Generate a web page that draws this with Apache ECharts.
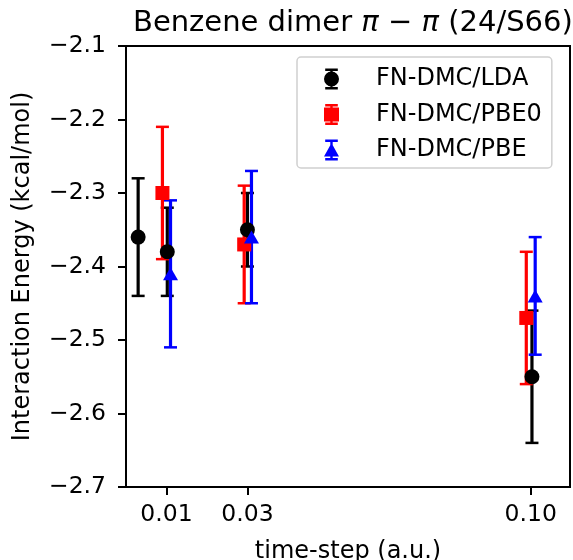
<!DOCTYPE html>
<html>
<head>
  <meta charset="utf-8">
  <style>
    body { margin: 0; padding: 0; background: #fff; }
  </style>
</head>
<body>
  <div id="main" style="width: 573px; height: 560px"></div>
</body>
<script src="https://cdn.jsdelivr.net/npm/echarts@6/dist/echarts.min.js"></script>
<script>
  // data
  var xLDA = [0.003, 0.0102, 0.030, 0.1003];
  var yLDA = [-2.36, -2.38, -2.35, -2.55];
  var eLDA = [0.08, 0.06, 0.05, 0.09];

  var xPBE0 = [0.009, 0.0292, 0.0989];
  var yPBE0 = [-2.30, -2.37, -2.47];
  var ePBE0 = [0.09, 0.08, 0.09];

  var xPBE = [0.011, 0.031, 0.1011];
  var yPBE = [-2.41, -2.36, -2.44];
  var ePBE = [0.10, 0.09, 0.08];

  var xTicks = [0.01, 0.03, 0.10];

  var font = 'DejaVu Sans';

  function points(xs, ys) {
    return xs.map(function(x, i) { return [x, ys[i]]; });
  }
  function bars(xs, ys, es) {
    return xs.map(function(x, i) { return [x, ys[i] - es[i], ys[i] + es[i]]; });
  }

  function errorSeries(name, color, data) {
    return {
      name: name,
      type: 'custom',
      data: data,
      encode: { x: 0, y: [1, 2] },
      renderItem: function(params, api) {
        var lo = api.coord([api.value(0), api.value(1)]);
        var hi = api.coord([api.value(0), api.value(2)]);
        var cap = 6.5;
        var st = { stroke: color, lineWidth: 3.2 };
        var cst = { stroke: color, lineWidth: 2.5 };
        return {
          type: 'group',
          children: [
            { type: 'line', shape: { x1: lo[0], y1: lo[1], x2: hi[0], y2: hi[1] }, style: st },
            { type: 'line', shape: { x1: lo[0] - cap, y1: lo[1], x2: lo[0] + cap, y2: lo[1] }, style: cst },
            { type: 'line', shape: { x1: hi[0] - cap, y1: hi[1], x2: hi[0] + cap, y2: hi[1] }, style: cst }
          ]
        };
      }
    };
  }

  var capPath = 'M1.2,0 H13.8 V2.4 H1.2 Z M6.3,0 H8.7 V21 H6.3 Z M1.2,18.6 H13.8 V21 H1.2 Z ';
  var iconLDA = 'path://' + capPath + 'M15,10.5 A7.5,7.5 0 1,1 0,10.5 A7.5,7.5 0 1,1 15,10.5 Z';
  var iconPBE0 = 'path://' + capPath + 'M0,3.5 H15 V17.5 H0 Z';
  var iconPBE = 'path://' + capPath + 'M7.5,3.5 L15,17 L0,17 Z';

  var chart = echarts.init(document.getElementById('main'));
  chart.setOption({
    animation: false,
    backgroundColor: '#fff',
    title: {
      left: 128,
      top: 4,
      text: '{a|Benzene dimer }{i|π}{a| − }{i|π}{a| (24/S66)}',
      textStyle: {
        fontWeight: 'normal',
        fontSize: 29,
        rich: {
          a: { fontFamily: font, fontSize: 29, fontWeight: 'normal', color: '#000' },
          i: { fontFamily: font, fontSize: 29, fontWeight: 'normal', color: '#000', fontStyle: 'italic' }
        }
      }
    },
    grid: {
      left: 126, right: 3, top: 46, bottom: 73,
      outerBoundsMode: 'none',
      containLabel: false,
      show: true, borderColor: '#000', borderWidth: 2
    },
    legend: {
      left: 297,
      top: 57,
      orient: 'vertical',
      selectedMode: false,
      itemWidth: 15,
      itemHeight: 21,
      itemGap: 11.5,
      padding: [10, 10, 6, 27],
      borderColor: '#d0d0d0',
      borderWidth: 1.5,
      borderRadius: 4,
      backgroundColor: '#fff',
      textStyle: { fontFamily: font, fontSize: 24, color: '#000', padding: [0, 0, 0, 32] },
      data: [
        { name: 'FN-DMC/LDA', icon: iconLDA, itemStyle: { color: '#000' } },
        { name: 'FN-DMC/PBE0', icon: iconPBE0, itemStyle: { color: '#ff0000' } },
        { name: 'FN-DMC/PBE', icon: iconPBE, itemStyle: { color: '#0000ff' } }
      ]
    },
    xAxis: {
      type: 'value',
      min: 0,
      max: 0.1097,
      name: 'time-step (a.u.)',
      nameLocation: 'middle',
      nameGap: 53,
      nameTextStyle: { fontFamily: font, fontSize: 24, color: '#000' },
      axisLine: { show: true, lineStyle: { color: '#000', width: 2 } },
      axisTick: { show: true, length: 8, customValues: xTicks, lineStyle: { color: '#000', width: 2 } },
      axisLabel: {
        margin: 16,
        customValues: xTicks,
        fontFamily: font, fontSize: 23.5, color: '#000',
        formatter: function(v) { return v.toFixed(2); }
      },
      splitLine: { show: false }
    },
    yAxis: {
      type: 'value',
      min: -2.7,
      max: -2.1,
      interval: 0.1,
      name: 'Interaction Energy (kcal/mol)',
      nameLocation: 'middle',
      nameGap: 91,
      nameTextStyle: { fontFamily: font, fontSize: 24, color: '#000' },
      axisLine: { show: true, lineStyle: { color: '#000', width: 2 } },
      axisTick: { show: true, length: 8, lineStyle: { color: '#000', width: 2 } },
      axisLabel: {
        margin: 20,
        fontFamily: font, fontSize: 23.5, color: '#000',
        formatter: function(v) { return v.toFixed(1).replace('-', '−'); }
      },
      splitLine: { show: false }
    },
    series: [
      errorSeries('err LDA', '#000', bars(xLDA, yLDA, eLDA)),
      { name: 'FN-DMC/LDA', type: 'scatter', symbol: 'circle', symbolSize: 15,
        itemStyle: { color: '#000', opacity: 1 }, data: points(xLDA, yLDA) },
      errorSeries('err PBE0', '#ff0000', bars(xPBE0, yPBE0, ePBE0)),
      { name: 'FN-DMC/PBE0', type: 'scatter', symbol: 'rect', symbolSize: 14,
        itemStyle: { color: '#ff0000', opacity: 1 }, data: points(xPBE0, yPBE0) },
      errorSeries('err PBE', '#0000ff', bars(xPBE, yPBE, ePBE)),
      { name: 'FN-DMC/PBE', type: 'scatter', symbol: 'triangle', symbolSize: [15, 13],
        itemStyle: { color: '#0000ff', opacity: 1 }, data: points(xPBE, yPBE) }
    ]
  });
</script>
</html>
